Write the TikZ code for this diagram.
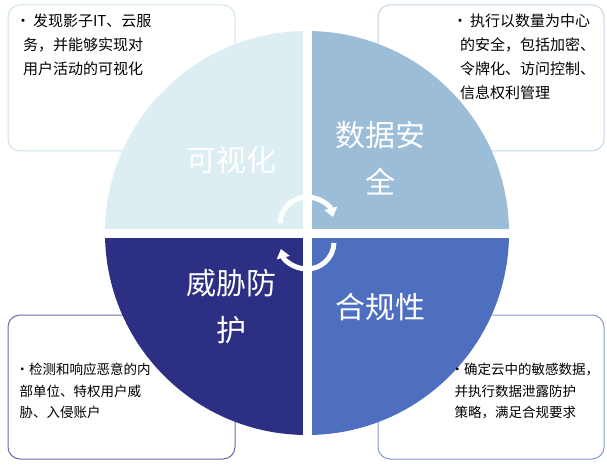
\documentclass[tikz,border=0pt]{standalone}
\usepackage{fontspec}
\setmainfont{Noto Sans CJK SC}
\usetikzlibrary{arrows.meta}
\definecolor{cTL}{HTML}{DCEEF2}
\definecolor{cTR}{HTML}{9CBDD8}
\definecolor{cBL}{HTML}{2C2F84}
\definecolor{cBR}{HTML}{4E6FC0}
\tikzset{x=1pt,y=-1pt,
 quad/.style={draw=white,line width=9pt},
 box/.style={fill=white,rounded corners=12pt,line width=1pt},
 big/.style={text=white,font=\fontsize{30}{47}\selectfont,align=center},
 small/.style={font=\fontsize{15}{24}\selectfont,align=left,anchor=north west,text width=220pt},
 smallb/.style={font=\fontsize{13.5}{21.5}\selectfont,align=left,anchor=north west,text width=220pt},
 cyc/.style={white,line width=5pt,-{Triangle[length=9pt,width=13pt]}}}
\begin{document}
\begin{tikzpicture}
\useasboundingbox[fill=white] (0,0) rectangle (607,465);
\draw[box,draw=cTL!80!cTR] (8,5) rectangle (235,151);
\draw[box,draw=cTR!60] (378,5) rectangle (604,151);
\draw[box,draw=cBL!70] (8,315) rectangle (235,459);
\draw[box,draw=cBR!70] (378,315) rectangle (604,459);
\coordinate (c) at (307,233);
\fill[cTL] (c) -- (105,233) arc[start angle=180,end angle=270,radius=202] -- cycle;
\fill[cTR] (c) -- (307,31) arc[start angle=270,end angle=360,radius=202] -- cycle;
\fill[cBR] (c) -- (509,233) arc[start angle=0,end angle=90,radius=202] -- cycle;
\fill[cBL] (c) -- (307,435) arc[start angle=90,end angle=180,radius=202] -- cycle;
\draw[quad] (100,233) -- (514,233) (307,26) -- (307,440);
\coordinate (ca) at (307,224);
\coordinate (cb) at (307,242);
\draw[cyc] (ca) ++(-178:27) arc[start angle=-178,end angle=-15,radius=27];
\draw[cyc] (cb) ++(2:27) arc[start angle=2,end angle=165,radius=27];
\node[big] (tl) at (231,160) {可视化};
\node[big] (tr) at (380,158) {数据安\\全};
\node[big] (bl) at (231,307) {威胁防\\护};
\node[big] (br) at (380,307) {合规性};
\node[small] (t1) at (12,10) {•\,发现影子IT、云服\\\hspace*{0.5em}务，并能够实现对\\\hspace*{0.5em}用户活动的可视化};
\node[small] (t2) at (449,10) {•\,执行以数量为中心\\\hspace*{0.5em}的安全，包括加密、\\\hspace*{0.5em}令牌化、访问控制、\\\hspace*{0.5em}信息权利管理};
\node[smallb] (t3) at (12,360) {•检测和响应恶意的内\\\hspace*{0.3em}部单位、特权用户威\\\hspace*{0.3em}胁、入侵账户};
\node[smallb] (t4) at (447,360) {•确定云中的敏感数据，\\\hspace*{0.3em}并执行数据泄露防护\\\hspace*{0.3em}策略，满足合规要求};
\end{tikzpicture}
\end{document}
